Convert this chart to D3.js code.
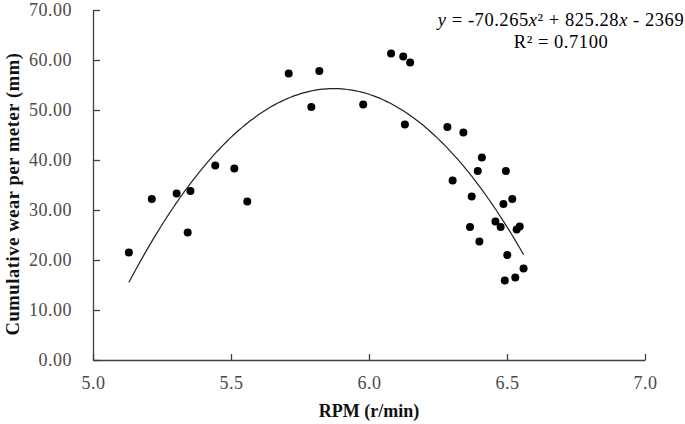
<!DOCTYPE html>
<html>
<head>
<meta charset="utf-8">
<script src="https://cdn.jsdelivr.net/npm/d3@7"></script>
<style>
  html, body { margin: 0; padding: 0; background: #fff; }
  svg { display: block; }
</style>
</head>
<body>
<svg id="chart" width="685" height="424"></svg>
<script>
// ---- data ----
const rpm = [5.130, 5.213, 5.303, 5.353, 5.343, 5.443, 5.512, 5.559, 5.709, 5.820, 5.791,
             5.979, 6.080, 6.124, 6.149, 6.130, 6.284, 6.342, 6.409, 6.394, 6.496, 6.303,
             6.372, 6.487, 6.519, 6.458, 6.477, 6.366, 6.400, 6.535, 6.546, 6.501, 6.560,
             6.530, 6.492];
const wear = [21.5, 32.2, 33.3, 33.8, 25.5, 38.9, 38.3, 31.7, 57.3, 57.8, 50.6,
              51.1, 61.3, 60.7, 59.5, 47.1, 46.6, 45.5, 40.5, 37.8, 37.8, 35.9,
              32.7, 31.2, 32.2, 27.7, 26.6, 26.6, 23.7, 26.1, 26.7, 21.0, 18.3,
              16.5, 15.9];
const trendCoef = [-70.265, 825.28, -2369];   // a x^2 + b x + c
const xTicks = [5.0, 5.5, 6.0, 6.5, 7.0];
const yTicks = [0, 10, 20, 30, 40, 50, 60, 70];
const xTitle = "RPM (r/min)";
const yTitle = "Cumulative wear per meter (mm)";
const r2Text = "0.7100";

// ---- layout ----
const svg = d3.select("#chart");
const mLeft = 93, mRight = 645, mTop = 10, mBottom = 360;
const x = d3.scaleLinear().domain([5, 7]).range([mLeft, mRight]);
const y = d3.scaleLinear().domain([0, 70]).range([mBottom, mTop]);
const serif = "'Liberation Serif', 'Times New Roman', serif";
const axisColor = "#404040";

// axes
const xAxis = d3.axisBottom(x).tickValues(xTicks).tickFormat(d3.format(".1f"))
  .tickSizeInner(-6).tickSizeOuter(0).tickPadding(16);
const yAxis = d3.axisLeft(y).tickValues(yTicks).tickFormat(d3.format(".2f"))
  .tickSizeInner(-7).tickSizeOuter(0).tickPadding(21);

const gx = svg.append("g").attr("transform", `translate(0,${mBottom})`).call(xAxis);
const gy = svg.append("g").attr("transform", `translate(${mLeft},0)`).call(yAxis);
[gx, gy].forEach(g => {
  g.select(".domain").attr("stroke", axisColor).attr("stroke-width", 1.3);
  g.selectAll(".tick line").attr("stroke", axisColor).attr("stroke-width", 1.3);
  g.selectAll(".tick text").attr("fill", "#4a4a4a")
    .style("font-family", serif).style("font-size", "18px")
    .style("letter-spacing", "0.5px");
});
gx.selectAll(".tick text").attr("dy", "0.71em");

// axis titles
svg.append("text").attr("x", (mLeft + mRight) / 2).attr("y", 417)
  .attr("text-anchor", "middle").style("font-family", serif)
  .style("font-size", "18px").style("font-weight", "bold").attr("fill", "#111")
  .text(xTitle);
svg.append("text").attr("transform", `translate(19,${(mTop + mBottom) / 2 + 9}) rotate(-90)`)
  .attr("text-anchor", "middle").style("font-family", serif)
  .style("font-size", "18.5px").style("font-weight", "bold").attr("fill", "#111")
  .style("letter-spacing", "0.6px")
  .text(yTitle);

// points
const pts = rpm.map((v, i) => ({ x: v, y: wear[i] }));
svg.append("g").selectAll("circle").data(pts).join("circle")
  .attr("cx", d => x(d.x)).attr("cy", d => y(d.y)).attr("r", 4)
  .attr("fill", "#000");

// trendline
const [a, b, c] = trendCoef;
const xmin = d3.min(rpm), xmax = d3.max(rpm);
const trend = d3.range(0, 101).map(i => {
  const xv = xmin + (xmax - xmin) * i / 100;
  return [xv, a * xv * xv + b * xv + c];
});
svg.append("path").datum(trend)
  .attr("d", d3.line().x(d => x(d[0])).y(d => y(d[1])).curve(d3.curveMonotoneX))
  .attr("fill", "none").attr("stroke", "#222").attr("stroke-width", 1.2);

// equation label
const eq = svg.append("text").attr("x", 561).attr("y", 26).attr("text-anchor", "middle")
  .style("font-family", serif).style("font-size", "18.5px").attr("fill", "#000")
  .style("letter-spacing", "0.55px");
eq.append("tspan").style("font-style", "italic").text("y");
eq.append("tspan").text(" = -70.265");
eq.append("tspan").style("font-style", "italic").text("x");
eq.append("tspan").text("²");
eq.append("tspan").text(" + 825.28");
eq.append("tspan").style("font-style", "italic").text("x");
eq.append("tspan").text(" - 2369");
svg.append("text").attr("x", 561).attr("y", 48).attr("text-anchor", "middle")
  .style("font-family", serif).style("font-size", "18.5px").attr("fill", "#000")
  .style("letter-spacing", "0.55px")
  .text("R² = " + r2Text);
</script>
</body>
</html>
